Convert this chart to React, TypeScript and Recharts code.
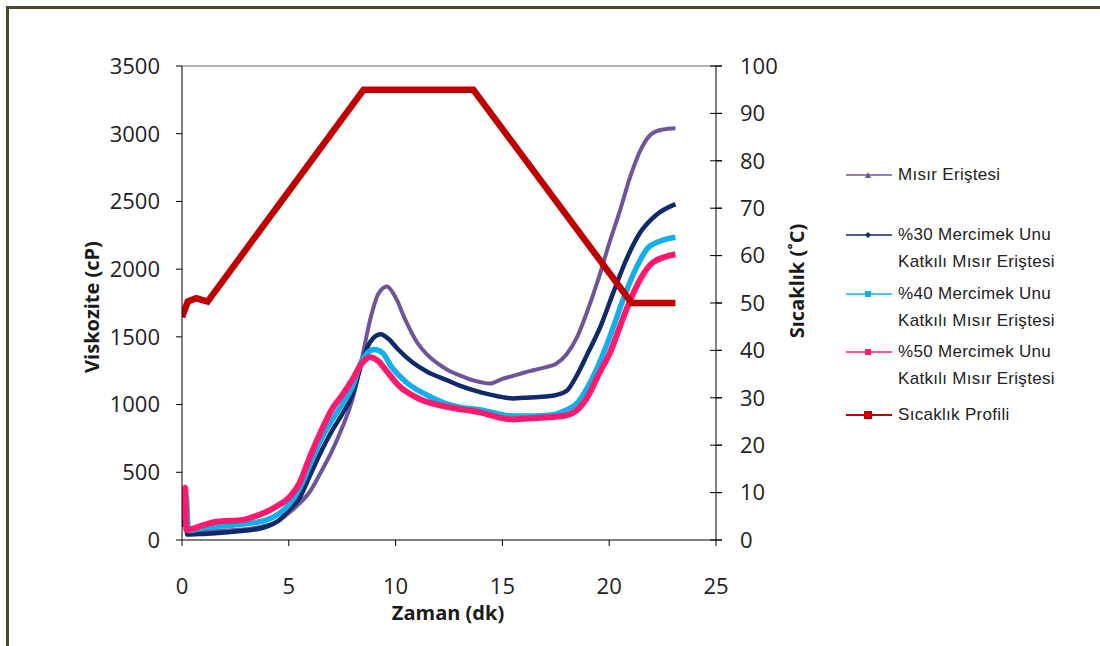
import React from 'react';
import { LineChart, Line, XAxis, YAxis, ReferenceLine } from 'recharts';

// ---- Data (time in minutes) ----
const misirT = [0, 0.1, 0.2, 0.3, 1, 2, 3, 4, 4.5, 5, 5.5, 6, 6.5, 7, 7.5, 8, 8.4, 8.8, 9.2, 9.6, 10, 10.5, 11, 11.5, 12, 12.5, 13, 13.5, 14, 14.4, 15, 15.5, 16, 16.5, 17, 17.5, 18, 18.5, 19, 19.5, 20, 20.5, 21, 21.5, 22, 22.5, 23.1];
const misirV = [150, 180, 300, 60, 60, 70, 80, 110, 140, 200, 270, 360, 500, 650, 830, 1050, 1320, 1620, 1820, 1872, 1790, 1610, 1460, 1365, 1300, 1250, 1215, 1185, 1165, 1155, 1190, 1212, 1235, 1255, 1275, 1300, 1370, 1500, 1700, 1930, 2190, 2430, 2690, 2890, 3000, 3030, 3040];

const m30T = [0, 0.1, 0.15, 0.25, 1, 2, 3, 3.5, 4, 4.5, 5, 5.5, 6, 6.5, 7, 7.5, 8, 8.4, 8.8, 9.3, 9.7, 10.1, 10.8, 11.5, 12.4, 13, 14, 15, 15.5, 16, 17, 17.5, 18, 18.5, 19, 19.6, 20.2, 20.8, 21.45, 22.2, 23.1];
const m30V = [100, 150, 280, 40, 45, 55, 70, 80, 100, 140, 220, 310, 480, 650, 800, 930, 1080, 1300, 1460, 1520, 1480, 1410, 1310, 1240, 1180, 1140, 1090, 1055, 1045, 1050, 1060, 1070, 1100, 1220, 1380, 1580, 1830, 2070, 2270, 2400, 2480];

const m40T = [0, 0.1, 0.2, 0.3, 1, 2, 3, 4, 4.5, 5, 5.5, 6, 6.5, 7, 7.5, 8, 8.4, 9, 9.4, 9.8, 10.5, 11.6, 12.5, 13, 14, 15, 15.5, 16, 17, 17.5, 18, 18.5, 19, 19.8, 20.2, 20.65, 21.3, 21.9, 23.1];
const m40V = [150, 200, 320, 70, 90, 105, 120, 150, 190, 260, 380, 560, 740, 880, 1000, 1140, 1320, 1406, 1380, 1280, 1165, 1060, 1000, 980, 960, 925, 915, 915, 920, 930, 960, 1010, 1130, 1406, 1576, 1776, 2020, 2170, 2235];

const m50T = [0, 0.1, 0.15, 0.2, 1, 1.6, 2.85, 3.6, 4.4, 5.05, 5.5, 6, 6.5, 7, 7.5, 8, 8.4, 8.8, 9.2, 9.6, 10.2, 11.2, 12.4, 14, 15, 15.5, 16, 17, 17.5, 18, 18.5, 19, 19.5, 20.1, 20.5, 21, 21.45, 22.05, 23.1];
const m50V = [160, 250, 385, 75, 110, 135, 148, 185, 246, 320, 420, 620, 800, 960, 1070, 1190, 1300, 1350, 1320, 1243, 1132, 1036, 984, 940, 900, 890, 895, 905, 910, 920, 960, 1060, 1220, 1406, 1576, 1776, 1924, 2050, 2110];

const tempT = [0, 0.27, 0.67, 1.2, 8.5, 13.64, 21.05, 23.1];
const tempV = [47, 50.3, 51, 50.3, 95, 95, 50, 50];

const xTicks = [0, 5, 10, 15, 20, 25];
const leftTicks = [0, 500, 1000, 1500, 2000, 2500, 3000, 3500];
const rightTicks = [0, 10, 20, 30, 40, 50, 60, 70, 80, 90, 100];

const seriesNames = ['Mısır Eriştesi', '%30 Mercimek Unu Katkılı Mısır Eriştesi', '%40 Mercimek Unu Katkılı Mısır Eriştesi', '%50 Mercimek Unu Katkılı Mısır Eriştesi', 'Sıcaklık Profili'];

const PURPLE = '#6f5499';
const NAVY = '#0e2a68';
const CYAN = '#12b0ea';
const PINK = '#ff1a70';
const RED = '#c00000';

const toData = (t: number[], v: number[]) => t.map((x, i) => ({ t: x, v: v[i] }));

const tickFont = { fontFamily: 'Open Sans', fontSize: 22, fill: '#222' };

const RightTick = (props: any) => {
  const { x, y, payload } = props;
  const axisX = x - 6 - 18;
  return (
    <g>
      <line x1={axisX - 6} x2={axisX + 6} y1={y} y2={y} stroke="#000" strokeWidth={1} />
      <text x={x} y={y} dy="0.355em" textAnchor="start" {...tickFont}>{payload.value}</text>
    </g>
  );
};

const Marker = ({ shape, color }: { shape: string; color: string }) => {
  const cx = 22, cy = 8;
  let m: any = null;
  if (shape === 'triangle') m = <polygon points={`${cx - 3},${cy + 3} ${cx + 3},${cy + 3} ${cx},${cy - 3}`} fill={color} />;
  else if (shape === 'diamond') m = <polygon points={`${cx - 3},${cy} ${cx},${cy - 3} ${cx + 3},${cy} ${cx},${cy + 3}`} fill={color} />;
  else if (shape === 'square') m = <rect x={cx - 3} y={cy - 3} width={6} height={6} fill={color} />;
  else m = <rect x={cx - 4} y={cy - 4} width={8} height={8} fill={color} />;
  return (
    <svg width={46} height={16} style={{ position: 'absolute', left: 0, top: 0 }}>
      <line x1={0} x2={46} y1={cy} y2={cy} stroke={color} strokeWidth={shape === 'big' ? 2 : 1.5} />
      {m}
    </svg>
  );
};

const legendEntries = [
  { lines: ['Mısır Eriştesi'], color: PURPLE, shape: 'triangle', top: 167 },
  { lines: ['%30 Mercimek Unu', 'Katkılı Mısır Eriştesi'], color: NAVY, shape: 'diamond', top: 227 },
  { lines: ['%40 Mercimek Unu', 'Katkılı Mısır Eriştesi'], color: CYAN, shape: 'square', top: 286 },
  { lines: ['%50 Mercimek Unu', 'Katkılı Mısır Eriştesi'], color: PINK, shape: 'square', top: 344 },
  { lines: ['Sıcaklık Profili'], color: RED, shape: 'big', top: 407 },
];

export default function App() {
  return (
    <div style={{ position: 'absolute', left: 0, top: 0, width: 1100, height: 646, background: '#fff', overflow: 'hidden' }}>
      <div style={{ position: 'absolute', left: 6, top: 6, width: 1200, height: 700, borderLeft: '3px solid #4b4631', borderTop: '3px solid #4b4631' }} />
      <LineChart width={1100} height={646} margin={{ top: 66, right: 300, bottom: 46, left: 0 }}>
        <XAxis
          type="number"
          dataKey="t"
          domain={[0, 25]}
          ticks={xTicks}
          allowDataOverflow
          height={60}
          tickSize={6}
          tickMargin={32}
          stroke="#000"
          tick={tickFont}
        />
        <YAxis
          yAxisId="left"
          domain={[0, 3500]}
          ticks={leftTicks}
          width={182}
          tickSize={6}
          tickMargin={16}
          stroke="#000"
          tick={tickFont}
        />
        <YAxis
          yAxisId="right"
          orientation="right"
          domain={[0, 100]}
          ticks={rightTicks}
          width={84}
          tickSize={6}
          tickMargin={18}
          stroke="#000"
          tick={<RightTick />}
        />
        <ReferenceLine yAxisId="left" y={3500} stroke="#b3b3b3" strokeWidth={2} />
        <Line data={toData(misirT, misirV)} name={seriesNames[0]} yAxisId="left" dataKey="v" type="monotone" stroke={PURPLE} strokeWidth={4} dot={false} isAnimationActive={false} />
        <Line data={toData(m30T, m30V)} name={seriesNames[1]} yAxisId="left" dataKey="v" type="monotone" stroke={NAVY} strokeWidth={4.5} dot={false} isAnimationActive={false} />
        <Line data={toData(m40T, m40V)} name={seriesNames[2]} yAxisId="left" dataKey="v" type="monotone" stroke={CYAN} strokeWidth={5.5} dot={false} isAnimationActive={false} />
        <Line data={toData(m50T, m50V)} name={seriesNames[3]} yAxisId="left" dataKey="v" type="monotone" stroke={PINK} strokeWidth={6} dot={false} isAnimationActive={false} />
        <Line data={toData(tempT, tempV)} name={seriesNames[4]} yAxisId="right" dataKey="v" type="linear" stroke={RED} strokeWidth={6.5} dot={false} isAnimationActive={false} />
      </LineChart>

      <div style={{ position: 'absolute', left: 91, top: 307, transform: 'translate(-50%, -50%) rotate(-90deg)', whiteSpace: 'nowrap', fontFamily: 'Open Sans', fontWeight: 700, fontSize: 20, color: '#1a1a1a' }}>Viskozite (cP)</div>
      <div style={{ position: 'absolute', left: 796, top: 281, transform: 'translate(-50%, -50%) rotate(-90deg)', whiteSpace: 'nowrap', fontFamily: 'Open Sans', fontWeight: 700, fontSize: 20, color: '#1a1a1a' }}>Sıcaklık (˚C)</div>
      <div style={{ position: 'absolute', left: 448, top: 612, transform: 'translate(-50%, -50%)', whiteSpace: 'nowrap', fontFamily: 'Open Sans', fontWeight: 700, fontSize: 20, color: '#1a1a1a' }}>Zaman (dk)</div>

      {legendEntries.map((e, i) => (
        <div key={i} style={{ position: 'absolute', left: 846, top: e.top, width: 250, height: 60 }}>
          <Marker shape={e.shape} color={e.color} />
          <div style={{ position: 'absolute', left: 52, top: -6, fontFamily: 'Liberation Sans', fontSize: 17, lineHeight: '27px', color: '#222', whiteSpace: 'nowrap', letterSpacing: 0.3 }}>
            {e.lines.map((l, j) => <div key={j}>{l}</div>)}
          </div>
        </div>
      ))}
    </div>
  );
}
